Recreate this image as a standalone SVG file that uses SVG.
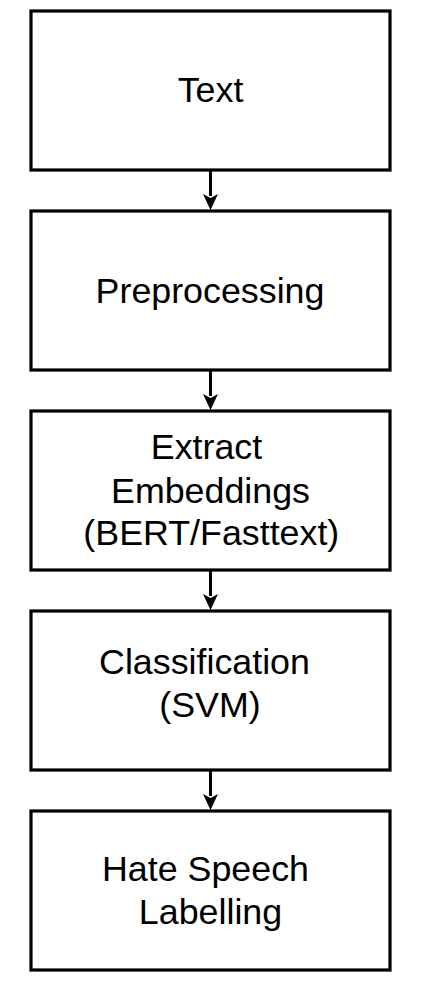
<svg xmlns="http://www.w3.org/2000/svg" width="421" height="981" viewBox="0 0 421 981">
<style>
.box{fill:#fff;stroke:#000;stroke-width:3.2}
.lbl{font-family:"Liberation Sans",Arial,sans-serif;font-size:35.8px;fill:#000;text-anchor:middle}
.edge{stroke:#000;stroke-width:3;fill:none}
.head{fill:#000}
</style>
<rect width="421" height="981" fill="#fff"/>
<g id="connectors">
<line class="edge" x1="210.5" y1="171" x2="210.5" y2="196"/>
<path class="head" d="M203,194 L210.5,198 L218,194 L210.5,210 Z"/>
<line class="edge" x1="210.5" y1="371" x2="210.5" y2="396"/>
<path class="head" d="M203,394 L210.5,398 L218,394 L210.5,410 Z"/>
<line class="edge" x1="210.5" y1="571" x2="210.5" y2="596"/>
<path class="head" d="M203,594 L210.5,598 L218,594 L210.5,610 Z"/>
<line class="edge" x1="210.5" y1="771" x2="210.5" y2="796"/>
<path class="head" d="M203,794 L210.5,798 L218,794 L210.5,810 Z"/>
</g>
<g id="node-text">
<rect class="box" x="31" y="11" width="359" height="159"/>
<text class="lbl" x="210.5" y="101.5">Text</text>
</g>
<g id="node-preprocessing">
<rect class="box" x="31" y="211" width="359" height="159"/>
<text class="lbl" x="210" y="303.3">Preprocessing</text>
</g>
<g id="node-embeddings">
<rect class="box" x="31" y="411" width="359" height="159"/>
<text class="lbl" x="206.5" y="459.3">Extract</text>
<text class="lbl" x="210.5" y="502.7">Embeddings</text>
<text class="lbl" x="211.3" y="545">(BERT/Fasttext)</text>
</g>
<g id="node-classification">
<rect class="box" x="31" y="611" width="359" height="159"/>
<text class="lbl" x="204.5" y="674">Classification</text>
<text class="lbl" x="210" y="716.7">(SVM)</text>
</g>
<g id="node-labelling">
<rect class="box" x="31" y="811" width="359" height="159"/>
<text class="lbl" x="205.5" y="880.7">Hate Speech</text>
<text class="lbl" x="210.5" y="924">Labelling</text>
</g>
</svg>
